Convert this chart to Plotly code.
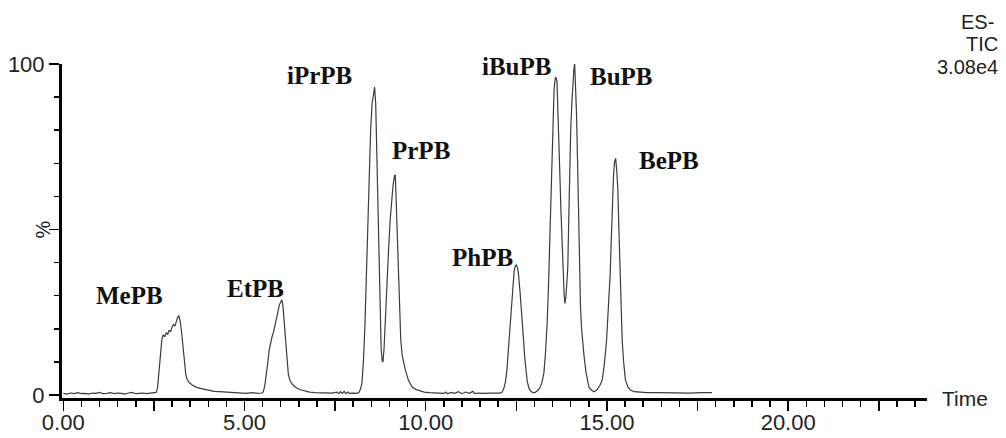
import plotly.graph_objects as go

# ---- chromatogram (TIC): time in minutes, intensity in % ----
time_min = [
    0.00, 0.10, 0.20, 0.30, 0.40, 0.50, 0.60, 0.70, 0.80, 0.90, 1.00, 1.10, 1.20, 1.30,
    1.40, 1.50, 1.60, 1.70, 1.80, 1.90, 2.00, 2.10, 2.20, 2.30, 2.40, 2.50,
    # MePB
    2.56, 2.60, 2.64, 2.68, 2.72, 2.76, 2.80, 2.84, 2.88, 2.92, 2.96, 3.00, 3.04, 3.08,
    3.12, 3.16, 3.19, 3.22, 3.26, 3.30, 3.34, 3.38, 3.42, 3.48, 3.56, 3.66, 3.78, 3.90,
    4.02, 4.16, 4.30, 4.45, 4.60, 4.75, 4.90, 5.05, 5.20, 5.35, 5.48,
    # EtPB
    5.52, 5.56, 5.60, 5.64, 5.68, 5.72, 5.76, 5.80, 5.84, 5.88, 5.92, 5.96, 6.00, 6.03,
    6.06, 6.09, 6.12, 6.15, 6.18, 6.21, 6.25, 6.30, 6.36, 6.44, 6.54, 6.66, 6.80, 6.95,
    7.10, 7.25, 7.40, 7.55, 7.60, 7.65, 7.70, 7.75, 7.80, 7.85, 7.90, 8.00, 8.10,
    # iPrPB / PrPB
    8.16, 8.20, 8.24, 8.28, 8.32, 8.36, 8.40, 8.44, 8.48, 8.52, 8.56, 8.59, 8.62, 8.65,
    8.68, 8.71, 8.74, 8.77, 8.80, 8.82, 8.85, 8.88, 8.91, 8.94, 8.98, 9.02, 9.06, 9.10,
    9.14, 9.16, 9.19, 9.22, 9.25, 9.28, 9.31, 9.35, 9.40, 9.44, 9.52, 9.62, 9.72, 9.84,
    9.96, 10.10, 10.30, 10.50, 10.55, 10.60, 10.70, 10.80, 10.90, 11.00, 11.10, 11.20,
    11.30, 11.35, 11.45, 11.60, 11.80, 11.95, 12.05,
    # PhPB
    12.10, 12.15, 12.20, 12.24, 12.28, 12.32, 12.36, 12.40, 12.44, 12.47, 12.50, 12.53,
    12.56, 12.60, 12.63, 12.66, 12.70, 12.73, 12.76, 12.80, 12.85, 12.90, 12.96, 13.02,
    # iBuPB / BuPB
    13.08, 13.14, 13.20, 13.26, 13.30, 13.35, 13.39, 13.42, 13.45, 13.48, 13.51, 13.54,
    13.57, 13.59, 13.62, 13.65, 13.68, 13.70, 13.73, 13.76, 13.79, 13.82, 13.84, 13.87,
    13.90, 13.92, 13.95, 13.97, 14.00, 14.03, 14.06, 14.09, 14.11, 14.14, 14.16, 14.19,
    14.21, 14.24, 14.27, 14.30, 14.33, 14.37, 14.42, 14.46, 14.50, 14.56, 14.64,
    # BePB
    14.72, 14.80, 14.87, 14.93, 14.99, 15.04, 15.09, 15.12, 15.15, 15.18, 15.21, 15.24,
    15.27, 15.30, 15.33, 15.36, 15.39, 15.42, 15.46, 15.51, 15.58, 15.65, 15.75, 15.90,
    16.10, 16.40, 16.70, 17.00, 17.30, 17.60, 17.90,
]
intensity_pct = [
    0.5, 0.3, 0.6, 0.4, 0.7, 0.4, 0.5, 0.3, 0.6, 0.5, 0.8, 0.4, 0.5, 0.7,
    0.4, 0.6, 0.5, 0.3, 0.6, 0.8, 0.4, 0.5, 0.6, 0.4, 0.5, 0.6,
    # MePB
    0.8, 2.0, 6.5, 12.5, 16.8, 18.2, 17.6, 18.8, 18.3, 19.6, 19.1, 20.5, 21.3, 20.8,
    22.4, 23.6, 23.9, 22.6, 19.5, 14.5, 9.5, 6.2, 4.6, 3.7, 3.0, 2.4, 2.0, 1.7,
    1.4, 1.1, 1.0, 0.9, 0.7, 0.8, 0.6, 0.5, 0.7, 0.5, 0.6,
    # EtPB
    1.0, 2.8, 5.5, 9.5, 13.5, 16.2, 17.6, 19.0, 20.8, 22.8, 25.0, 27.2, 28.4, 28.8,
    27.0, 23.0, 18.0, 13.0, 9.0, 6.2, 4.5, 3.5, 2.8, 2.1, 1.6, 1.2, 0.9, 0.7,
    0.6, 0.5, 0.6, 0.9, 0.4, 1.0, 0.5, 1.1, 0.4, 0.9, 0.5, 0.6, 0.5,
    # iPrPB / PrPB
    0.8, 1.8, 3.6, 10.0, 20.0, 33.8, 52.0, 68.0, 80.0, 88.0, 92.0, 93.0, 88.0, 74.0,
    58.0, 40.0, 23.0, 14.0, 10.3, 10.0, 14.0, 22.0, 30.0, 38.0, 45.0, 53.0, 59.0, 63.5,
    66.3, 66.5, 57.0, 47.0, 37.0, 27.0, 17.0, 12.0, 9.0, 7.5, 4.5, 2.5, 1.7, 1.2,
    0.9, 0.7, 0.6, 0.5, 0.9, 0.4, 0.8, 0.5, 1.0, 0.4, 0.9, 0.5,
    1.1, 0.4, 0.6, 0.5, 0.6, 0.5, 0.6,
    # PhPB
    0.8, 1.8, 4.0, 7.5, 13.6, 20.0, 27.0, 33.0, 37.5, 39.0, 39.3, 38.5,
    36.5, 31.5, 27.5, 23.7, 16.5, 11.5, 7.5, 4.2, 2.0, 1.1, 0.7, 0.8,
    # iBuPB / BuPB
    1.3, 2.0, 3.5, 6.6, 12.0, 21.7, 34.0, 46.8, 60.0, 74.0, 85.0, 92.0,
    95.5, 96.0, 94.8, 86.0, 75.0, 67.0, 56.0, 45.0, 36.8, 30.0, 27.7, 30.0,
    35.0, 38.8, 55.0, 69.0, 80.0, 88.0, 95.0, 98.8, 100.0, 93.0, 85.0, 70.0,
    57.0, 41.0, 26.7, 20.0, 15.0, 11.6, 7.0, 4.2, 2.5, 1.6, 1.0,
    # BePB
    1.5, 2.8, 4.5, 9.5, 16.6, 26.0, 36.8, 47.0, 58.9, 66.0, 70.5, 71.5,
    68.0, 62.0, 50.0, 36.8, 26.0, 16.6, 10.0, 4.5, 2.4, 1.5, 1.0, 0.8,
    0.7, 0.7, 0.6, 0.7, 0.6, 0.7, 0.7,
]

# ---- peak labels (compound names) and their positions in data units ----
peak_names = ["MePB", "EtPB", "iPrPB", "PrPB", "PhPB", "iBuPB", "BuPB", "BePB"]
label_time = [1.84, 5.30, 7.07, 9.87, 11.58, 12.50, 15.39, 16.71]
label_pct = [30.0, 32.3, 96.5, 74.0, 41.4, 99.2, 96.2, 70.8]

# ---- axis ticks ----
x_tick_vals = [0, 2.5, 5, 7.5, 10, 12.5, 15, 17.5, 20, 22.5]
x_tick_text = ["0.00", "", "5.00", "", "10.00", "", "15.00", "", "20.00", ""]
y_tick_vals = [0, 50, 100]
y_tick_text = ["0", "", "100"]
header_lines = ["ES-", "TIC", "3.08e4"]

fig = go.Figure()
fig.add_trace(go.Scatter(
    x=time_min, y=intensity_pct, mode="lines",
    line=dict(color="#3c3c3c", width=1.2), hoverinfo="skip", showlegend=False,
))

sans = "Liberation Sans, Arial, sans-serif"
serif = "Liberation Serif, Times New Roman, serif"

for name, tx, ty in zip(peak_names, label_time, label_pct):
    fig.add_annotation(x=tx, y=ty, xref="x", yref="y", text=f"<b>{name}</b>",
                       showarrow=False, xanchor="center", yanchor="middle",
                       font=dict(family=serif, size=25, color="#111"))

# header at top right
header_y = [1.127, 1.060, 0.990]
header_x = [1.0795, 1.0845, 1.0845]
for txt, hx, hy in zip(header_lines, header_x, header_y):
    fig.add_annotation(x=hx, y=hy, xref="paper", yref="paper", text=txt,
                       showarrow=False, xanchor="right", yanchor="middle",
                       font=dict(family=sans, size=20, color="#222"))

# axis titles
fig.add_annotation(x=1.015, y=0.0, xref="paper", yref="paper", text="Time",
                   showarrow=False, xanchor="left", yanchor="middle",
                   font=dict(family=sans, size=21, color="#222"))
fig.add_annotation(x=-0.023, y=50, xref="paper", yref="y", text="%", textangle=-90,
                   showarrow=False, xanchor="center", yanchor="middle",
                   font=dict(family=sans, size=20, color="#222"))

fig.update_xaxes(
    range=[-0.035, 23.83], showgrid=False, zeroline=False, automargin=False,
    showline=True, linecolor="black", linewidth=3,
    tickmode="array", tickvals=x_tick_vals, ticktext=x_tick_text,
    ticks="outside", ticklen=10, tickwidth=1.5, tickcolor="black",
    ticklabelstandoff=-7,
    tickfont=dict(family=sans, size=22, color="#222"),
    minor=dict(tickmode="linear", tick0=0, dtick=0.5, ticks="outside",
               ticklen=6, tickwidth=1.5, tickcolor="black", showgrid=False),
)
fig.update_yaxes(
    range=[-0.9, 100], showgrid=False, zeroline=False, automargin=False,
    showline=True, linecolor="black", linewidth=3,
    tickmode="array", tickvals=y_tick_vals, ticktext=y_tick_text,
    ticks="outside", ticklen=10, tickwidth=1.5, tickcolor="black",
    tickfont=dict(family=sans, size=22, color="#222"),
    minor=dict(tickmode="linear", tick0=0, dtick=10, ticks="outside",
               ticklen=5, tickwidth=1.5, tickcolor="black", showgrid=False),
)

fig.update_layout(
    width=1006, height=438,
    margin=dict(l=62, r=79, t=64, b=40, autoexpand=False),
    paper_bgcolor="white", plot_bgcolor="white",
    showlegend=False,
)

fig.write_html(
    "out.html",
    config={"displayModeBar": False, "staticPlot": True},
    post_script="document.body.style.margin='0';document.body.style.overflow='hidden';",
)
